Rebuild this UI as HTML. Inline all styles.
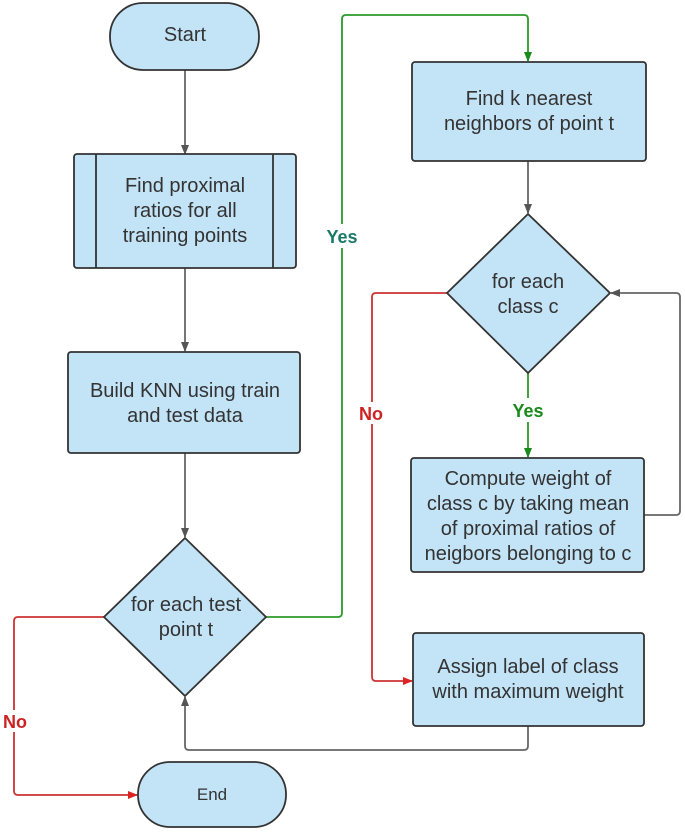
<!DOCTYPE html>
<html><head><style>
html,body{margin:0;padding:0;background:#fff;}
svg{display:block;}
text{font-family:"Liberation Sans",sans-serif;fill:#333;font-size:20px;text-anchor:middle;}
.b{font-weight:bold;font-size:18px;}
</style></head><body>
<svg width="685" height="833" viewBox="0 0 685 833">
<defs>
<marker id="ag" markerWidth="10" markerHeight="10" refX="9" refY="5" orient="auto" markerUnits="userSpaceOnUse"><path d="M0,1 L10,5 L0,9 z" fill="#555"/></marker>
<marker id="agr" markerWidth="10" markerHeight="10" refX="9" refY="5" orient="auto" markerUnits="userSpaceOnUse"><path d="M0,1 L10,5 L0,9 z" fill="#1a8a1a"/></marker>
<marker id="ar" markerWidth="10" markerHeight="10" refX="9" refY="5" orient="auto" markerUnits="userSpaceOnUse"><path d="M0,1 L10,5 L0,9 z" fill="#d22"/></marker>
</defs>
<g fill="none" stroke-width="1.8">
<path d="M185,70 V154" stroke="#666" marker-end="url(#ag)"/>
<path d="M185,268 V351" stroke="#666" marker-end="url(#ag)"/>
<path d="M185,453 V537" stroke="#666" marker-end="url(#ag)"/>
<path d="M266,617 H338 Q342,617 342,613 V19 Q342,15 346,15 H524 Q528,15 528,19 V61" stroke="#2a9a2a" marker-end="url(#agr)"/>
<path d="M528,161 V213" stroke="#666" marker-end="url(#ag)"/>
<path d="M528,373 V457" stroke="#2a9a2a" marker-end="url(#agr)"/>
<path d="M644,515 H676 Q680,515 680,511 V297 Q680,293 676,293 H611" stroke="#666" marker-end="url(#ag)"/>
<path d="M447,293 H376 Q372,293 372,297 V677 Q372,681 376,681 H412" stroke="#c33" marker-end="url(#ar)"/>
<path d="M528,726 V746 Q528,750 524,750 H189 Q185,750 185,746 V697" stroke="#666" marker-end="url(#ag)"/>
<path d="M104,617 H18 Q14,617 14,621 V791 Q14,795 18,795 H137" stroke="#c33" marker-end="url(#ar)"/>
</g>
<g fill="#c3e3f6" stroke="#333" stroke-width="1.8">
<rect x="110" y="3" width="149" height="67" rx="33"/>
<rect x="74" y="154" width="222" height="114" rx="3"/>
<line x1="96" y1="154" x2="96" y2="268"/><line x1="273" y1="154" x2="273" y2="268"/>
<rect x="68" y="352" width="232" height="101" rx="3"/>
<path d="M185,538 L266,617 L185,696 L104,617 Z"/>
<rect x="138" y="762" width="148" height="65" rx="32"/>
<rect x="412" y="62" width="234" height="99" rx="3"/>
<path d="M528,214 L610,293 L528,373 L447,293 Z"/>
<rect x="411" y="458" width="233" height="114" rx="3"/>
<rect x="413" y="633" width="231" height="93" rx="3"/>
</g>
<rect x="328" y="224" width="28" height="24" fill="#fff"/>
<text x="342" y="243" class="b" style="fill:#1a7a6a">Yes</text>
<rect x="512" y="398" width="32" height="24" fill="#fff"/>
<text x="528" y="417" class="b" style="fill:#1a8a1a">Yes</text>
<rect x="357" y="402" width="30" height="22" fill="#fff"/>
<text x="371" y="420" class="b" style="fill:#c22">No</text>
<rect x="1" y="710" width="30" height="22" fill="#fff"/>
<text x="15" y="728" class="b" style="fill:#c22">No</text>
<text x="185" y="41">Start</text>
<text x="185" y="192">Find proximal</text>
<text x="185" y="217">ratios for all</text>
<text x="185" y="242">training points</text>
<text x="185" y="397">Build KNN using train</text>
<text x="185" y="422">and test data</text>
<text x="186" y="611">for each test</text>
<text x="186" y="636">point t</text>
<text x="212" y="800" style="font-size:17px">End</text>
<text x="529" y="105">Find k nearest</text>
<text x="529" y="130">neighbors of point t</text>
<text x="528" y="288">for each</text>
<text x="528" y="313">class c</text>
<text x="528" y="485">Compute weight of</text>
<text x="528" y="510">class c by taking mean</text>
<text x="528" y="535">of proximal ratios of</text>
<text x="528" y="560">neigbors belonging to c</text>
<text x="528" y="673">Assign label of class</text>
<text x="528" y="698">with maximum weight</text>
</svg>
</body></html>
